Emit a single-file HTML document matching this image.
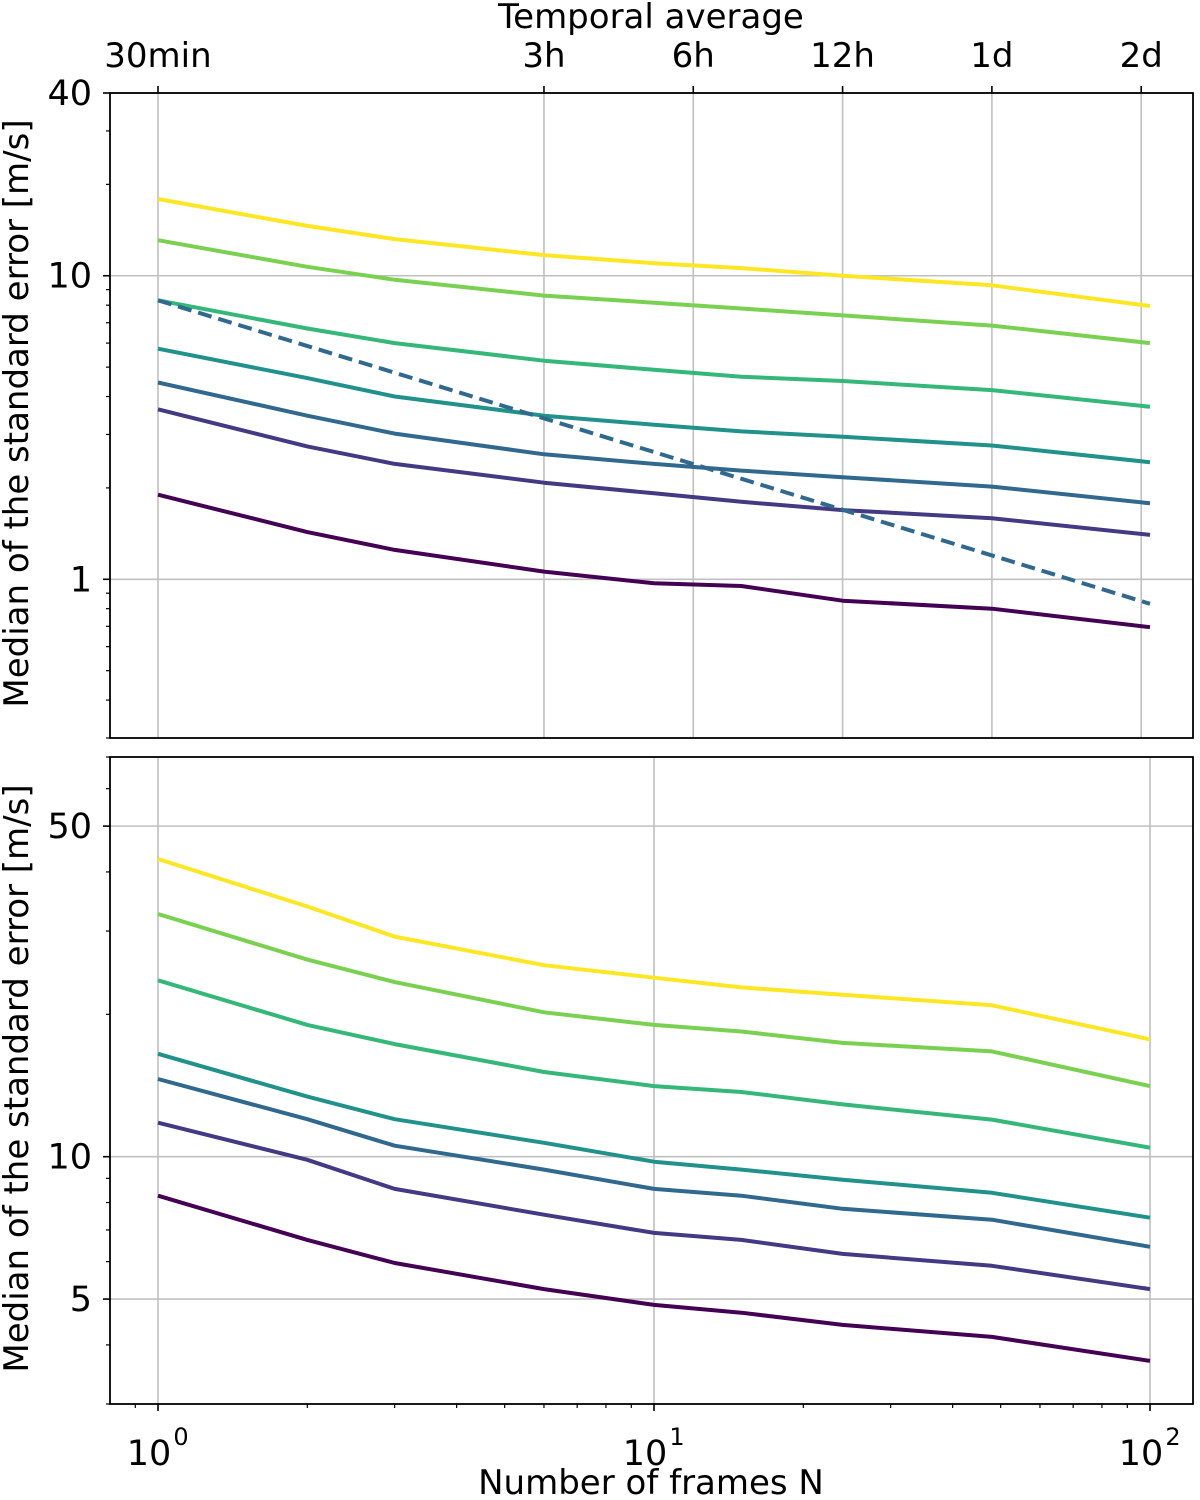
<!DOCTYPE html>
<html><head><meta charset="utf-8"><style>
html,body{margin:0;padding:0;background:#fff;width:1200px;height:1500px;overflow:hidden}
svg{display:block;font-family:"DejaVu Sans","Liberation Sans",sans-serif}
</style></head><body>
<svg id="chart" width="1200" height="1500" viewBox="0 0 1200 1500" xmlns="http://www.w3.org/2000/svg"></svg>
<script>
const frames = [1, 2, 3, 6, 10, 15, 24, 48, 100];
const colors = ["#fde725", "#7ad151", "#35b779", "#21918c", "#31688e", "#443983", "#440154"];
const topSeries = [
  [17.9, 14.6, 13.2, 11.7, 11.0, 10.6, 10.0, 9.3, 7.95],
  [13.1, 10.7, 9.7, 8.6, 8.15, 7.8, 7.4, 6.85, 6.0],
  [8.3, 6.7, 6.0, 5.25, 4.9, 4.65, 4.5, 4.2, 3.7],
  [5.75, 4.6, 4.0, 3.46, 3.23, 3.07, 2.95, 2.76, 2.43],
  [4.45, 3.46, 3.02, 2.58, 2.4, 2.28, 2.17, 2.02, 1.78],
  [3.63, 2.74, 2.4, 2.08, 1.92, 1.8, 1.69, 1.59, 1.4],
  [1.9, 1.43, 1.25, 1.06, 0.97, 0.95, 0.85, 0.8, 0.695]
];
const bottomSeries = [
  [42.6, 33.8, 29.2, 25.4, 23.9, 22.8, 22.0, 20.9, 17.7],
  [32.6, 26.1, 23.4, 20.2, 19.0, 18.4, 17.4, 16.7, 14.1],
  [23.6, 19.0, 17.3, 15.1, 14.1, 13.7, 12.9, 11.98, 10.45],
  [16.5, 13.4, 12.0, 10.7, 9.76, 9.39, 8.94, 8.39, 7.43],
  [14.6, 12.0, 10.55, 9.39, 8.55, 8.27, 7.76, 7.36, 6.45],
  [11.8, 9.85, 8.55, 7.54, 6.9, 6.67, 6.23, 5.88, 5.25],
  [8.27, 6.67, 5.96, 5.25, 4.86, 4.68, 4.41, 4.16, 3.7]
];
const refFrames = [1, 100];
const refValues = [8.3, 0.83];
const topTickLabels = ["30min", "3h", "6h", "12h", "1d", "2d"];
const topTickFrames = [1, 6, 12, 24, 48, 96];
const topYTicks = [40, 10, 1];
const bottomYTicks = [50, 10, 5];
const xTicks = [1, 10, 100];
const xTickExp = ["0", "1", "2"];

const NS = "http://www.w3.org/2000/svg";
const svg = document.getElementById("chart");
function mk(tag, attrs, parent, text) {
  const e = document.createElementNS(NS, tag);
  for (const k in attrs) e.setAttribute(k, attrs[k]);
  if (text !== undefined) e.textContent = text;
  (parent || svg).appendChild(e);
  return e;
}
const L = 110, R = 1193;
const x = n => 158 + Math.log10(n) * 496;
const panels = [
  {name: "top", top: 93, bot: 738, yMin: 0.3, yMax: 40, series: topSeries, yTicks: topYTicks},
  {name: "bottom", top: 757, bot: 1404, yMin: 3, yMax: 70, series: bottomSeries, yTicks: bottomYTicks}
];
panels.forEach(p => {
  const lmin = Math.log10(p.yMin), lmax = Math.log10(p.yMax);
  const y = v => p.bot - (Math.log10(v) - lmin) / (lmax - lmin) * (p.bot - p.top);
  const g = mk("g", {});
  
  
  const vgrid = p.name === "top" ? topTickFrames : xTicks;
  vgrid.forEach(n => {
    const l = mk("line", {x1: x(n), x2: x(n), y1: p.top, y2: p.bot, stroke: "#c0c0c0", "stroke-width": 1.6}, g);
    
    
  });
  p.yTicks.forEach(v => {
    const l = mk("line", {x1: L, x2: R, y1: y(v), y2: y(v), stroke: "#c0c0c0", "stroke-width": 1.6}, g);
    
    
    const t = mk("text", {x: L - 18, y: y(v) + 12, "text-anchor": "end", "font-size": 35}, g, String(v));
    
    
    mk("line", {x1: L - 7, x2: L, y1: y(v), y2: y(v), stroke: "#000", "stroke-width": 1.6}, g);
  });
  for (let d = -2; d <= 2; d++) for (let m = 1; m <= 9; m++) {
    const v = m * Math.pow(10, d);
    if (v < p.yMin || v > p.yMax || p.yTicks.includes(v)) continue;
    mk("line", {x1: L - 4, x2: L, y1: y(v), y2: y(v), stroke: "#000", "stroke-width": 1.2}, g);
  }
  p.series.forEach((s, i) => {
    const d = s.map((v, j) => (j ? "L" : "M") + x(frames[j]).toFixed(1) + "," + y(v).toFixed(1)).join(" ");
    const path = mk("path", {d: d, fill: "none", stroke: colors[i], "stroke-width": 4, "stroke-linejoin": "round"}, g);
    
    
  });
  if (p.name === "top") {
    const d = refValues.map((v, j) => (j ? "L" : "M") + x(refFrames[j]).toFixed(1) + "," + y(v).toFixed(1)).join(" ");
    const ref = mk("path", {d: d, fill: "none", stroke: "#31688e", "stroke-width": 4, "stroke-dasharray": "14,7"}, g);
    
    
    topTickFrames.forEach((n, i) => {
      mk("line", {x1: x(n), x2: x(n), y1: p.top - 7, y2: p.top, stroke: "#000", "stroke-width": 1.6}, g);
      const t = mk("text", {x: x(n), y: 67, "text-anchor": "middle", "font-size": 34}, g, topTickLabels[i]);
      
      
    });
  } else {
    xTicks.forEach((n, i) => {
      mk("line", {x1: x(n), x2: x(n), y1: p.bot, y2: p.bot + 7, stroke: "#000", "stroke-width": 1.6}, g);
      const t = mk("text", {x: x(n) - 9, y: 1465, "text-anchor": "middle", "font-size": 35}, g, "10");
      
      
      mk("text", {x: x(n) + 23, y: 1445, "text-anchor": "middle", "font-size": 24}, g, xTickExp[i]);
    });
    for (let d = -1; d <= 2; d++) for (let m = 2; m <= 9; m++) {
      const n = m * Math.pow(10, d);
      if (x(n) < L || x(n) > R) continue;
      mk("line", {x1: x(n), x2: x(n), y1: p.bot, y2: p.bot + 4, stroke: "#000", "stroke-width": 1.2}, g);
    }
  }
  const box = mk("rect", {x: L, y: p.top, width: R - L, height: p.bot - p.top, fill: "none", stroke: "#000", "stroke-width": 1.8}, g);
  
  
  const yt = mk("text", {x: 0, y: 0, "text-anchor": "middle", "font-size": 34, transform: "translate(28," + ((p.top + p.bot) / 2 - 2) + ") rotate(-90)"}, g, "Median of the standard error [m/s]");
  
  
});
const tt = mk("text", {x: 651, y: 28, "text-anchor": "middle", "font-size": 34}, svg, "Temporal average");


const bt = mk("text", {x: 651, y: 1494, "text-anchor": "middle", "font-size": 34}, svg, "Number of frames N");


</script>
</body></html>
